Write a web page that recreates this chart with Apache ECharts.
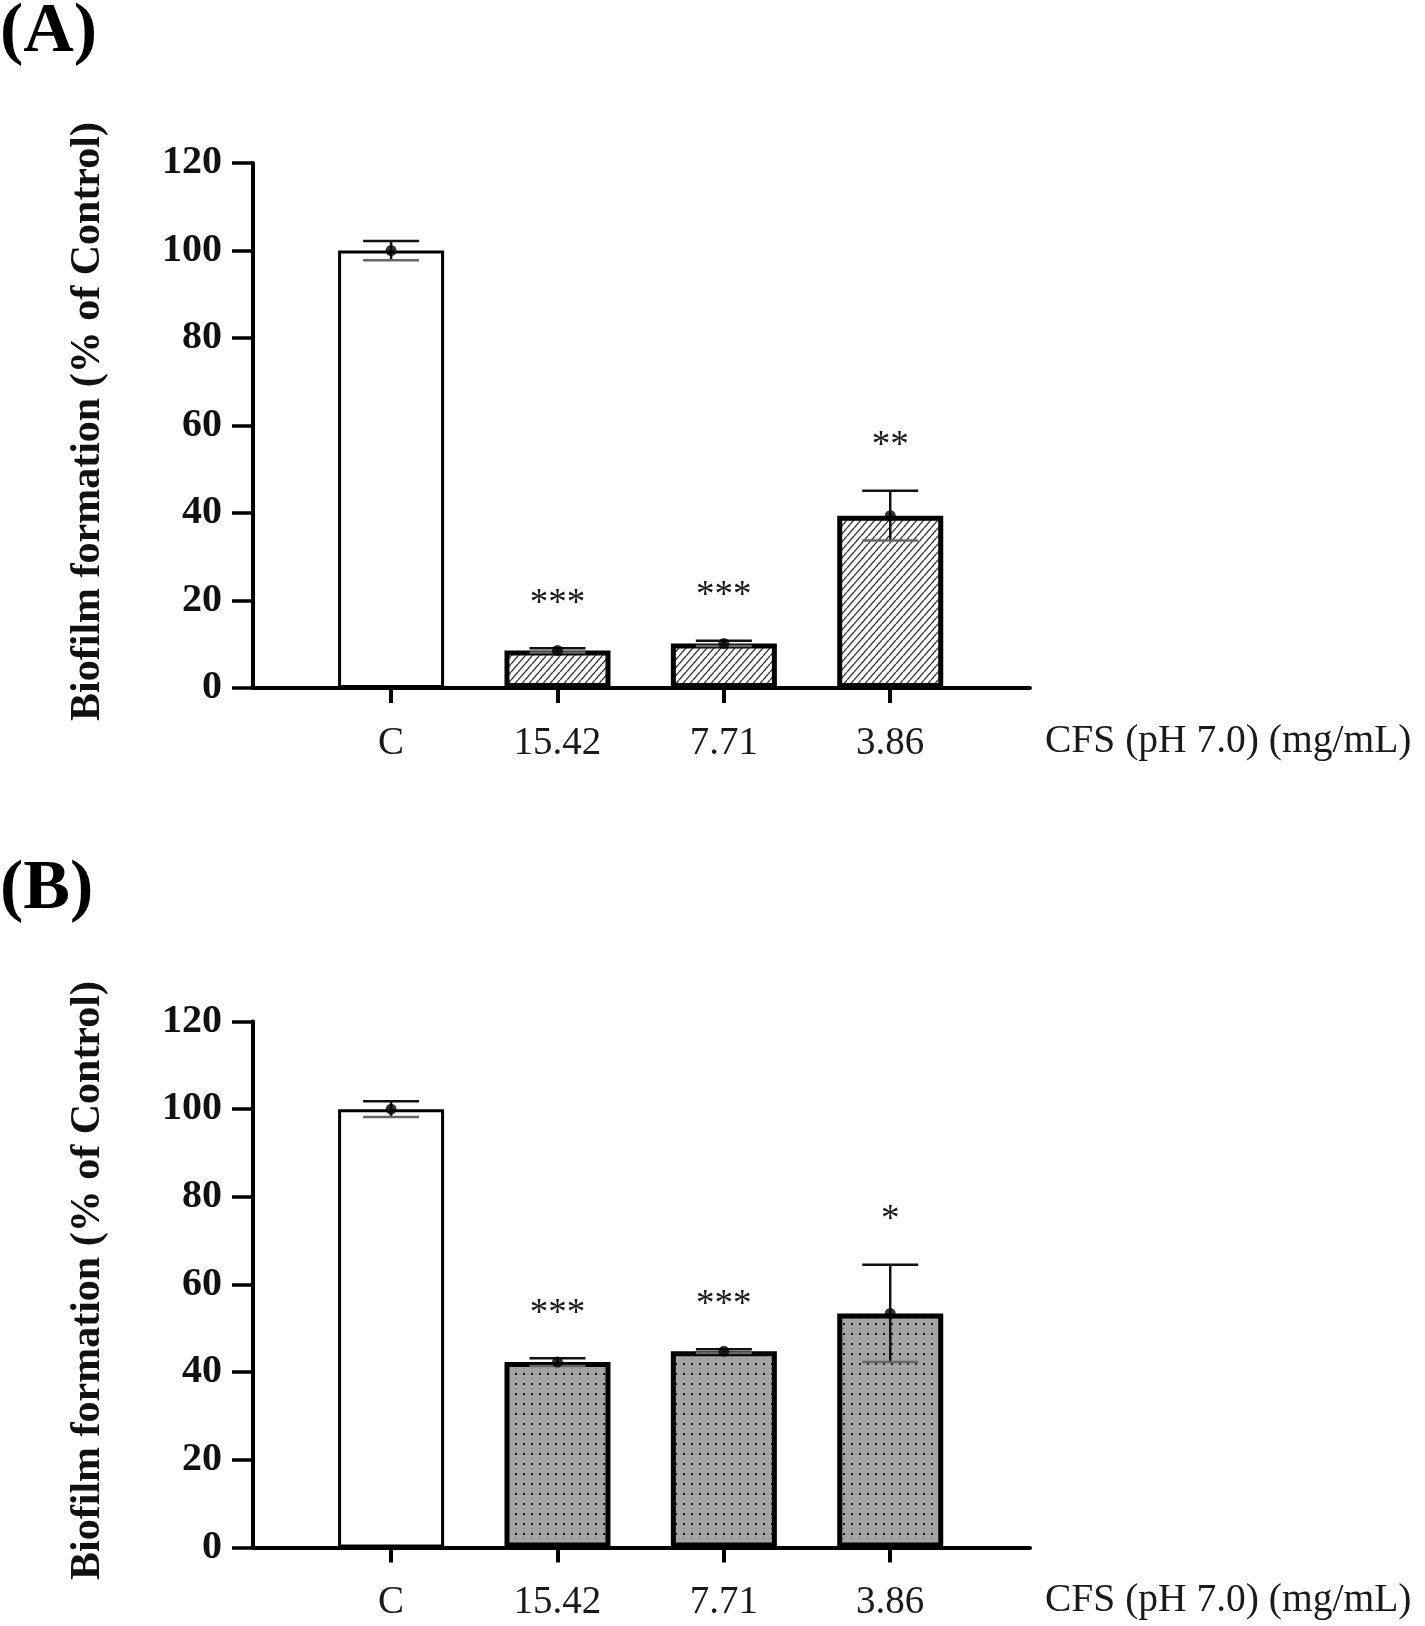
<!DOCTYPE html>
<html>
<head>
<meta charset="utf-8">
<script src="https://cdn.jsdelivr.net/npm/echarts@6/dist/echarts.min.js"></script>
<style>
  html, body { margin: 0; padding: 0; background: #fff; }
  #chart { width: 1425px; height: 1626px; }
</style>
</head>
<body>
<div id="chart"></div>
<script>
// data
const categories = ['C', '15.42', '7.71', '3.86']
const meansA = [100, 8.6, 10.2, 39.4]
const sdA = [2.2, 0.5, 0.6, 5.7]
const starsA = ['', '***', '***', '**']
const meansB = [100, 42.3, 44.8, 53.4]
const sdB = [1.8, 0.9, 0.4, 11.1]
const starsB = ['', '***', '***', '*']
const yMin = 0, yMax = 120, yStep = 20
const xName = 'CFS (pH 7.0) (mg/mL)'
const yName = 'Biofilm formation (% of Control)'

const serif = 'Liberation Serif'

// hatch pattern (panel A)
function hatchCanvas() {
    let c = document.createElement('canvas')
    c.width = 7
    c.height = 8
    let ctx = c.getContext('2d')
    ctx.fillStyle = '#fff'
    ctx.fillRect(0, 0, 7, 8)
    ctx.strokeStyle = '#3a3a3a'
    ctx.lineWidth = 1.4
    for (let k = -1; k <= 1; k++) {
        ctx.beginPath()
        ctx.moveTo(k * 7, 8)
        ctx.lineTo(k * 7 + 7, 0)
        ctx.stroke()
    }
    return c
}

// dotted grey pattern (panel B)
function dotCanvas() {
    let c = document.createElement('canvas')
    c.width = 8
    c.height = 10
    let ctx = c.getContext('2d')
    ctx.fillStyle = '#a4a4a4'
    ctx.fillRect(0, 0, 8, 10)
    ctx.fillStyle = '#151515'
    ctx.fillRect(3, 3, 2, 2)
    ctx.fillStyle = '#6a6a6a'
    ctx.fillRect(3, 8, 1, 1)
    return c
}

const hatch = {image: hatchCanvas(), repeat: 'repeat'}
const dots = {image: dotCanvas(), repeat: 'repeat'}

function barData(means, fill) {
    return means.map((v, i) => ({
        value: [i, v],
        itemStyle: i == 0
            ? {color: '#fff', borderColor: '#000', borderWidth: 3}
            : {color: fill, borderColor: '#000', borderWidth: 5}
    }))
}

function errorSeries(idx, means, sds) {
    return {
        type: 'custom',
        xAxisIndex: idx,
        yAxisIndex: idx,
        z: 5,
        data: means.map((m, i) => [i, m, sds[i]]),
        renderItem: function (params, api) {
            let x = api.value(0), m = api.value(1), s = api.value(2)
            let top = api.coord([x, m + s])
            let bot = api.coord([x, m - s])
            let hw = 28
            return {
                type: 'group',
                children: [
                    {type: 'line', shape: {x1: top[0], y1: top[1], x2: bot[0], y2: bot[1]}, style: {stroke: '#111', lineWidth: 2.5}},
                    {type: 'line', shape: {x1: top[0] - hw, y1: top[1], x2: top[0] + hw, y2: top[1]}, style: {stroke: '#111', lineWidth: 2.5}},
                    {type: 'line', shape: {x1: bot[0] - hw, y1: bot[1], x2: bot[0] + hw, y2: bot[1]}, style: {stroke: '#666', lineWidth: 2.5}}
                ]
            }
        }
    }
}

function starSeries(idx, means, sds, stars) {
    return {
        type: 'custom',
        xAxisIndex: idx,
        yAxisIndex: idx,
        z: 6,
        data: means.map((m, i) => [i, m + sds[i]]),
        renderItem: function (params, api) {
            let p = api.coord([api.value(0), api.value(1)])
            return {
                type: 'text',
                x: p[0],
                y: p[1] - 44,
                style: {
                    text: stars[params.dataIndex],
                    fontFamily: serif,
                    fontSize: 37,
                    fill: '#1a1a1a',
                    align: 'center',
                    verticalAlign: 'middle'
                }
            }
        }
    }
}

function xAxis(idx) {
    return {
        type: 'value',
        gridIndex: idx,
        min: -0.83,
        max: 3.84,
        splitLine: {show: false},
        axisLine: {show: true, lineStyle: {color: '#000', width: 4}},
        axisTick: {show: true, customValues: [0, 1, 2, 3], length: 15, lineStyle: {color: '#000', width: 4}},
        axisLabel: {
            customValues: [0, 1, 2, 3],
            formatter: v => categories[Math.round(v)],
            margin: 36,
            fontFamily: serif,
            fontSize: 39,
            color: '#1a1a1a'
        }
    }
}

function yAxis(idx) {
    return {
        type: 'value',
        gridIndex: idx,
        min: yMin,
        max: yMax,
        interval: yStep,
        splitLine: {show: false},
        axisLine: {show: true, onZero: false, lineStyle: {color: '#000', width: 4}},
        axisTick: {show: true, length: 21, lineStyle: {color: '#000', width: 3.5}},
        axisLabel: {
            margin: 31,
            fontFamily: serif,
            fontWeight: 'bold',
            fontSize: 40,
            color: '#111'
        },
        name: yName,
        nameLocation: 'middle',
        nameRotate: 90,
        nameGap: 144,
        nameTextStyle: {
            fontFamily: serif,
            fontWeight: 'bold',
            fontSize: 42,
            color: '#111',
            padding: [0, 0, 0, 8]
        }
    }
}

function xNameText(y) {
    return {
        type: 'text', x: 1045, y: y,
        style: {text: xName, fontFamily: serif, fontSize: 39.5, fill: '#1a1a1a', align: 'left', verticalAlign: 'middle'}
    }
}

const chart = echarts.init(document.getElementById('chart'), null, {renderer: 'canvas'})

const option = {
    backgroundColor: '#fff',
    animation: false,
    grid: [
        {left: 253, top: 163, width: 777, height: 525},
        {left: 253, top: 1021.5, width: 777, height: 526}
    ],
    xAxis: [xAxis(0), xAxis(1)],
    yAxis: [yAxis(0), yAxis(1)],
    graphic: [
        {type: 'text', left: 0, top: -2, style: {text: '(A)', fontFamily: serif, fontWeight: 'bold', fontSize: 70, fill: '#000'}},
        {type: 'text', left: 0, top: 855, style: {text: '(B)', fontFamily: serif, fontWeight: 'bold', fontSize: 70, fill: '#000'}},
        xNameText(742),
        xNameText(1601)
    ],
    series: [
        {type: 'bar', xAxisIndex: 0, yAxisIndex: 0, barWidth: 106, data: barData(meansA, hatch)},
        {type: 'bar', xAxisIndex: 1, yAxisIndex: 1, barWidth: 106, data: barData(meansB, dots)},
        errorSeries(0, meansA, sdA),
        errorSeries(1, meansB, sdB),
        {type: 'scatter', xAxisIndex: 0, yAxisIndex: 0, z: 7, symbolSize: 11, itemStyle: {color: '#000'},
            data: meansA.map((m, i) => [i, m])},
        {type: 'scatter', xAxisIndex: 1, yAxisIndex: 1, z: 7, symbolSize: 11, itemStyle: {color: '#000'},
            data: meansB.map((m, i) => [i, m])},
        starSeries(0, meansA, sdA, starsA),
        starSeries(1, meansB, sdB, starsB)
    ]
}

chart.setOption(option)
</script>
</body>
</html>
